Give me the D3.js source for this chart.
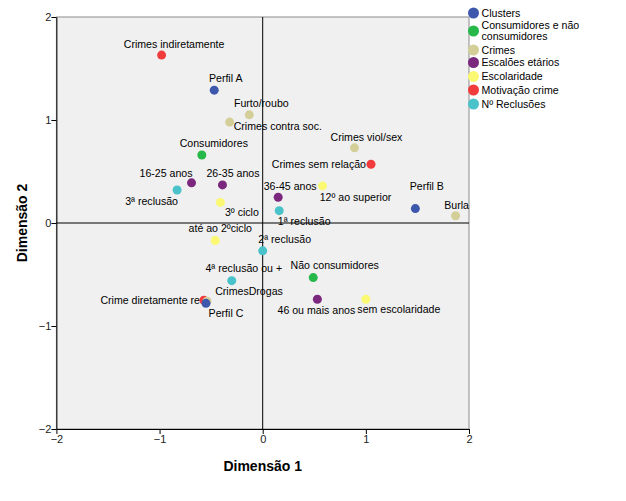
<!DOCTYPE html>
<html><head><meta charset="utf-8">
<script src="https://cdn.jsdelivr.net/npm/d3@7"></script>
<style>
html,body{margin:0;padding:0;background:#fff;}
svg{display:block;font-family:"Liberation Sans",Arial,sans-serif;}
</style></head>
<body><svg id="c" width="626" height="501"></svg>
<script>
// ---- data ----
const groups = ["Clusters","Consumidores e não consumidores","Crimes","Escalões etários","Escolaridade","Motivação crime","Nº Reclusões"];
const groupColors = ["#3d57ac","#27b84a","#d4cf98","#7a277d","#fbf873","#f13b3c","#4ac2c9"];
const pointLabels = ["Crimes indiretamente","Perfil A","Furto/roubo","Crimes contra soc.","Consumidores","16-25 anos","26-35 anos","3ª reclusão","3º ciclo","Crimes viol/sex","Crimes sem relação","12º ao superior","36-45 anos","1ª reclusão","Perfil B","Burla","até ao 2ºciclo","2ª reclusão","4ª reclusão ou +","Não consumidores","46 ou mais anos","sem escolaridade","Crime diretamente re","CrimesDrogas","Perfil C"];
const pointGroup = [5,0,2,2,1,3,3,6,4,2,5,4,3,6,0,2,4,6,6,1,3,4,5,2,0];
const dim1 = [-0.98,-0.47,-0.13,-0.32,-0.59,-0.69,-0.39,-0.83,-0.41,0.89,1.05,0.58,0.15,0.16,1.48,1.87,-0.46,0.00,-0.30,0.49,0.53,1.00,-0.57,-0.54,-0.55];
const dim2 = [1.63,1.29,1.05,0.98,0.66,0.39,0.37,0.32,0.20,0.73,0.57,0.36,0.25,0.12,0.14,0.07,-0.17,-0.27,-0.56,-0.53,-0.74,-0.74,-0.75,-0.76,-0.78];
const xTicks = [-2,-1,0,1,2];
const yTicks = [-2,-1,0,1,2];
const xTitle = "Dimensão 1", yTitle = "Dimensão 2";

// ---- label layout (pixel offsets of label from its point: dx, dy, anchor) ----
const labelLayout = [
 [12.5,-11,"middle"],[11.5,-12,"middle"],[12,-12,"middle"],[4,4,"start"],[12,-12,"middle"],
 [-25.5,-10,"middle"],[10.5,-12,"middle"],[-25.5,11,"middle"],[21.5,10,"middle"],[12,-11,"middle"],
 [-5,0,"end"],[33,11,"middle"],[12,-11,"middle"],[25,11,"middle"],[11.5,-22,"middle"],
 [1,-11,"middle"],[5,-12,"middle"],[22,-12,"middle"],[12,-12,"middle"],[21.5,-12,"middle"],
 [-1,11,"middle"],[33,10,"middle"],[-4,0,"end"],[42,-10,"middle"],[20,10,"middle"]
];

const svg = d3.select("#c");
const L=56.4, R=469, T=17, B=429;
const x = d3.scaleLinear().domain([-2,2]).range([L,R]);
const y = d3.scaleLinear().domain([-2,2]).range([B,T]);

svg.append("rect").attr("x",L).attr("y",T).attr("width",R-L).attr("height",B-T)
  .attr("fill","#f0f0f0").attr("stroke","#8c8c8c").attr("stroke-width",1);

// reference lines
svg.append("line").attr("x1",x(0)).attr("x2",x(0)).attr("y1",T).attr("y2",B).attr("stroke","#000").attr("stroke-width",1);
svg.append("line").attr("x1",L).attr("x2",R).attr("y1",y(0)).attr("y2",y(0)).attr("stroke","#000").attr("stroke-width",1);

const gx = svg.append("g").attr("transform",`translate(0,${B})`)
  .call(d3.axisBottom(x).tickValues(xTicks).tickSize(5).tickSizeOuter(0).tickFormat(d3.format("d")));
const gy = svg.append("g").attr("transform",`translate(${L},0)`)
  .call(d3.axisLeft(y).tickValues(yTicks).tickSize(5).tickSizeOuter(0).tickFormat(d3.format("d")));
[gx,gy].forEach(g=>{
  g.select(".domain").attr("stroke","#000");
  g.selectAll(".tick line").attr("stroke","#000");
  g.selectAll(".tick text").attr("fill","#222").style("font-size","11px").style("font-family","Liberation Sans, Arial, sans-serif");
});
gx.selectAll(".tick text").attr("dy","0.75em").attr("y",6);
gy.selectAll(".tick text").attr("x",-5);

svg.append("text").attr("x",x(0)).attr("y",471).attr("text-anchor","middle")
  .style("font-size","14px").style("font-weight","bold").text(xTitle);
svg.append("text").attr("transform",`translate(27,${y(0)}) rotate(-90)`).attr("text-anchor","middle")
  .style("font-size","14px").style("font-weight","bold").text(yTitle);

const idx = d3.range(pointLabels.length);
// labels
svg.append("g").selectAll("text").data(idx).join("text")
  .attr("x",i=>x(dim1[i])+labelLayout[i][0])
  .attr("y",i=>y(dim2[i])+labelLayout[i][1])
  .attr("dy","0.35em")
  .attr("text-anchor",i=>labelLayout[i][2])
  .style("font-size","10.6px").attr("fill","#000")
  .text(i=>pointLabels[i]);
// points
svg.append("g").selectAll("circle").data(idx).join("circle")
  .attr("cx",i=>x(dim1[i])).attr("cy",i=>y(dim2[i])).attr("r",4.5)
  .attr("fill",i=>groupColors[pointGroup[i]]);

// legend
const legendLines = [["Clusters"],["Consumidores e não","consumidores"],["Crimes"],["Escalões etários"],["Escolaridade"],["Motivação crime"],["Nº Reclusões"]];
const legY = [13,31,50,62.5,76.5,90,104];
const lg = svg.append("g");
groups.forEach((g,i)=>{
  lg.append("circle").attr("cx",473.5).attr("cy",legY[i]).attr("r",5.5).attr("fill",groupColors[i]);
  const lines = legendLines[i];
  lines.forEach((t,j)=>{
    const yy = lines.length===1 ? legY[i] : legY[i] + (j===0?-5.5:5.5);
    lg.append("text").attr("x",481.5).attr("y",yy).attr("dy","0.35em")
      .style("font-size","10.6px").text(t);
  });
});
</script></body></html>
